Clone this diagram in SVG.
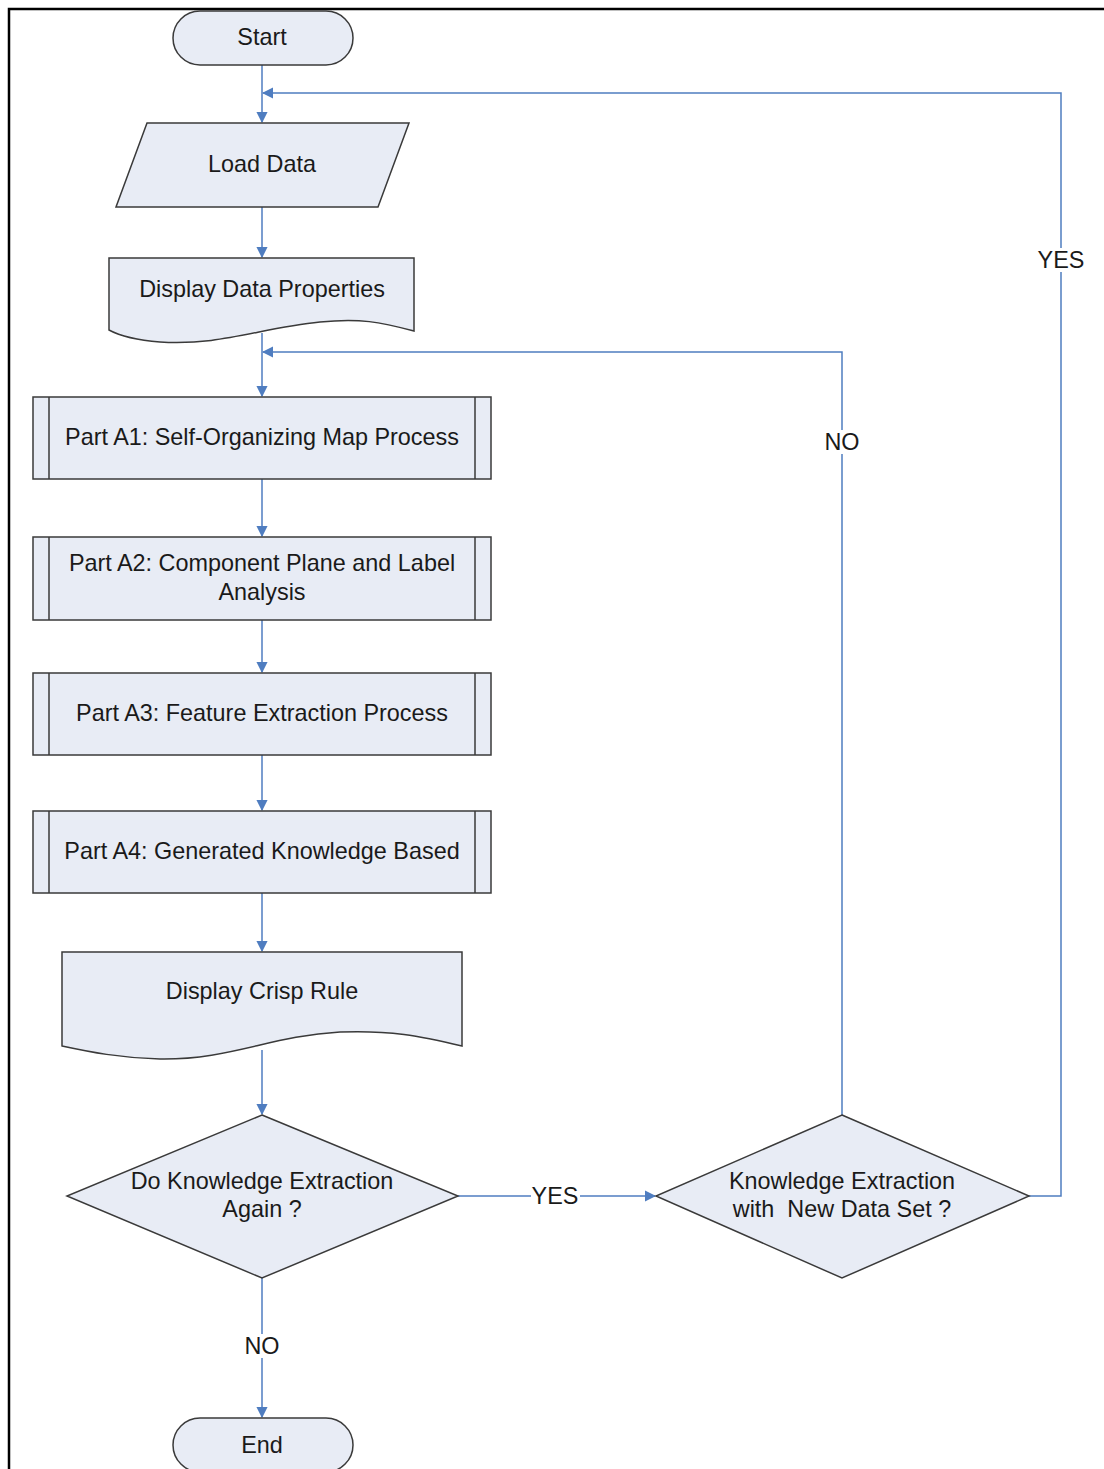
<svg xmlns="http://www.w3.org/2000/svg" width="1104" height="1469" viewBox="0 0 1104 1469">
<defs>
<style>
.shape{fill:#e8ecf5;stroke:#3a3a3a;stroke-width:1.5}
.conn{fill:none;stroke:#4f7dc0;stroke-width:1.5}
.t{font-family:"Liberation Sans",Arial,sans-serif;font-size:23.4px;fill:#1a1a1a;text-anchor:middle;dominant-baseline:central}
.lbl{fill:#ffffff}
</style>
<marker id="arr" viewBox="0 0 10 10" refX="9" refY="5" markerWidth="7.5" markerHeight="7.5" orient="auto" markerUnits="strokeWidth">
<path d="M0,0 L10,5 L0,10 z" fill="#4f7dc0"/>
</marker>
</defs>
<rect x="0" y="0" width="1104" height="1469" fill="#ffffff"/>
<g id="frame">
<path d="M9,1469 V9 H1104" fill="none" stroke="#000" stroke-width="2.5"/>
</g>
<g id="connectors">
<path class="conn" d="M262,65 V122" marker-end="url(#arr)"/>
<path class="conn" d="M262,207 V257" marker-end="url(#arr)"/>
<path class="conn" d="M262,333 V396" marker-end="url(#arr)"/>
<path class="conn" d="M262,479 V536" marker-end="url(#arr)"/>
<path class="conn" d="M262,620 V672" marker-end="url(#arr)"/>
<path class="conn" d="M262,755 V810" marker-end="url(#arr)"/>
<path class="conn" d="M262,893 V951" marker-end="url(#arr)"/>
<path class="conn" d="M262,1050 V1114" marker-end="url(#arr)"/>
<path class="conn" d="M458,1196 H655" marker-end="url(#arr)"/>
<path class="conn" d="M842,1115 V352 H263" marker-end="url(#arr)"/>
<path class="conn" d="M1029,1196 H1061 V93 H263" marker-end="url(#arr)"/>
<path class="conn" d="M262,1278 V1417" marker-end="url(#arr)"/>
<rect class="lbl" x="531" y="1184" width="49" height="24"/>
<text class="t" x="555" y="1196">YES</text>
<rect class="lbl" x="822" y="430" width="40" height="24"/>
<text class="t" x="842" y="442">NO</text>
<rect class="lbl" x="1036" y="248" width="50" height="24"/>
<text class="t" x="1061" y="260">YES</text>
<rect class="lbl" x="242" y="1334" width="40" height="24"/>
<text class="t" x="262" y="1346">NO</text>
</g>
<g id="start">
<rect class="shape" x="173" y="11" width="180" height="54" rx="27" ry="27"/>
<text class="t" x="262" y="37">Start</text>
</g>
<g id="load-data">
<path class="shape" d="M147,123 H409 L378,207 H116 Z"/>
<text class="t" x="262" y="164">Load Data</text>
</g>
<g id="display-data-properties">
<path class="shape" d="M109,258 H414 V331 C380,322 360,318 320,322 C260,328 220,346 160,342 C135,340 120,336 109,330 Z"/>
<text class="t" x="262" y="289">Display Data Properties</text>
</g>
<g id="part-a1">
<rect class="shape" x="33" y="397" width="458" height="82"/>
<path class="shape" d="M49,397 V479 M475,397 V479"/>
<text class="t" x="262" y="437">Part A1: Self-Organizing Map Process</text>
</g>
<g id="part-a2">
<rect class="shape" x="33" y="537" width="458" height="83"/>
<path class="shape" d="M49,537 V620 M475,537 V620"/>
<text class="t" x="262" y="563">Part A2: Component Plane and Label</text>
<text class="t" x="262" y="592">Analysis</text>
</g>
<g id="part-a3">
<rect class="shape" x="33" y="673" width="458" height="82"/>
<path class="shape" d="M49,673 V755 M475,673 V755"/>
<text class="t" x="262" y="713">Part A3: Feature Extraction Process</text>
</g>
<g id="part-a4">
<rect class="shape" x="33" y="811" width="458" height="82"/>
<path class="shape" d="M49,811 V893 M475,811 V893"/>
<text class="t" x="262" y="851">Part A4: Generated Knowledge Based</text>
</g>
<g id="display-crisp-rule">
<path class="shape" d="M62,952 H462 V1046 C420,1036 390,1030 340,1032 C270,1036 230,1060 160,1059 C120,1058 90,1052 62,1046 Z"/>
<text class="t" x="262" y="991">Display Crisp Rule</text>
</g>
<g id="decision-again">
<path class="shape" d="M262,1115 L458,1196 L262,1278 L67,1196 Z"/>
<text class="t" x="262" y="1181">Do Knowledge Extraction</text>
<text class="t" x="262" y="1209">Again ?</text>
</g>
<g id="decision-new-data">
<path class="shape" d="M842,1115 L1029,1196 L842,1278 L656,1196 Z"/>
<text class="t" x="842" y="1181">Knowledge Extraction</text>
<text class="t" x="842" y="1209" xml:space="preserve">with  New Data Set ?</text>
</g>
<g id="end">
<rect class="shape" x="173" y="1418" width="180" height="54" rx="27" ry="27"/>
<text class="t" x="262" y="1445">End</text>
</g>
</svg>
